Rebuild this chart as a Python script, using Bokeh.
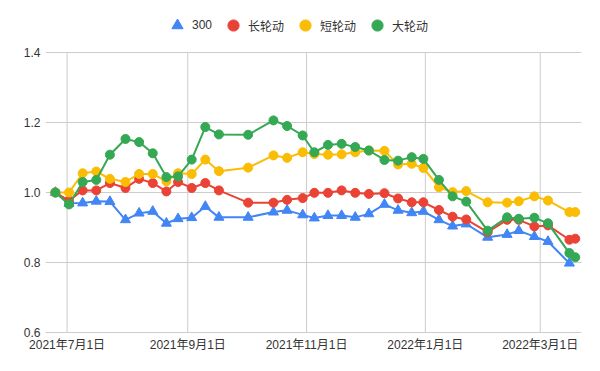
import datetime as dt
from bokeh.plotting import figure
from bokeh.models import (FixedTicker, CustomJSTickFormatter, PrintfTickFormatter,
                          Legend, LegendItem, ColumnDataSource, Range1d)
from bokeh.embed import file_html
from bokeh.resources import INLINE

dates = ["2021-06-25", "2021-07-02", "2021-07-09", "2021-07-16", "2021-07-23", "2021-07-31",
         "2021-08-07", "2021-08-14", "2021-08-21", "2021-08-27", "2021-09-03", "2021-09-10",
         "2021-09-17", "2021-10-02", "2021-10-15", "2021-10-22", "2021-10-30", "2021-11-05",
         "2021-11-12", "2021-11-19", "2021-11-26", "2021-12-03", "2021-12-11", "2021-12-18",
         "2021-12-25", "2021-12-31", "2022-01-08", "2022-01-15", "2022-01-22", "2022-02-02",
         "2022-02-12", "2022-02-18", "2022-02-26", "2022-03-05", "2022-03-16", "2022-03-19"]

s300 = [1.0, 0.969, 0.970, 0.975, 0.974, 0.922, 0.941, 0.946, 0.912, 0.925, 0.928, 0.960,
        0.929, 0.929, 0.944, 0.949, 0.936, 0.927, 0.934, 0.934, 0.929, 0.939, 0.966, 0.949,
        0.942, 0.946, 0.922, 0.904, 0.910, 0.872, 0.880, 0.891, 0.874, 0.860, 0.798, float("nan")]
long_rot = [1.0, 0.977, 1.006, 1.006, 1.027, 1.013, 1.039, 1.027, 1.003, 1.030, 1.013, 1.027,
            1.006, 0.971, 0.971, 0.979, 0.984, 0.999, 0.999, 1.006, 0.999, 0.996, 0.998, 0.983,
            0.972, 0.972, 0.950, 0.931, 0.923, 0.887, 0.922, 0.922, 0.903, 0.906, 0.865, 0.868]
short_rot = [1.0, 1.0, 1.055, 1.060, 1.039, 1.030, 1.053, 1.053, 1.032, 1.055, 1.053, 1.094,
             1.061, 1.071, 1.106, 1.099, 1.115, 1.110, 1.108, 1.109, 1.115, 1.120, 1.119, 1.080,
             1.082, 1.070, 1.015, 1.001, 1.004, 0.972, 0.971, 0.975, 0.989, 0.977, 0.944, 0.944]
big_rot = [1.0, 0.966, 1.030, 1.036, 1.108, 1.153, 1.144, 1.112, 1.044, 1.046, 1.094, 1.187,
           1.166, 1.165, 1.206, 1.190, 1.163, 1.115, 1.136, 1.139, 1.130, 1.120, 1.093, 1.091,
           1.101, 1.096, 1.036, 0.989, 0.974, 0.891, 0.929, 0.925, 0.928, 0.912, 0.827, 0.815]

names = ["300", "长轮动", "短轮动", "大轮动"]
colors = ["#4285F4", "#EA4335", "#FBBC04", "#34A853"]
x_ticks = ["2021-07-01", "2021-09-01", "2021-11-01", "2022-01-01", "2022-03-01"]
y_ticks = [0.6, 0.8, 1.0, 1.2, 1.4]

xs = [dt.datetime.strptime(d, "%Y-%m-%d") for d in dates]
epoch = dt.datetime(1970, 1, 1)
def ms(d):
    return (d - epoch).total_seconds() * 1000.0

FONT = "Liberation Sans, Noto Sans CJK SC"
PX = 1.0 / 350.0                    # one pixel in value units
Y_TOP = 1.4 + 52.0 * PX             # frame extends above the top gridline to hold the legend
Y_BOT = 0.6 - 1.0 * PX              # keep the 0.6 gridline inside the frame

p = figure(width=600, height=371, x_axis_type="datetime", output_backend="svg",
           toolbar_location=None, min_border_left=45, min_border_right=19,
           min_border_top=0, min_border_bottom=38)
p.x_range = Range1d(ms(dt.datetime(2021, 6, 19, 22)), ms(dt.datetime(2022, 3, 22, 5)))
p.y_range = Range1d(Y_BOT, Y_TOP)
p.outline_line_color = None
p.background_fill_color = "white"
p.border_fill_color = "white"

tick_ms = [ms(dt.datetime.strptime(t, "%Y-%m-%d")) for t in x_ticks]
p.xaxis.ticker = FixedTicker(ticks=tick_ms)
p.xaxis.formatter = CustomJSTickFormatter(code="""
const d = new Date(tick);
return d.getUTCFullYear() + "年" + (d.getUTCMonth() + 1) + "月" + d.getUTCDate() + "日";
""")
p.yaxis.ticker = FixedTicker(ticks=y_ticks)
p.yaxis.formatter = PrintfTickFormatter(format="%.1f")
for ax in (p.xaxis, p.yaxis):
    ax.axis_line_color = None
    ax.major_tick_line_color = None
    ax.minor_tick_line_color = None
    ax.major_tick_in = 0
    ax.major_tick_out = 0
    ax.major_label_text_font = FONT
    ax.major_label_text_font_size = "12px"
    ax.major_label_text_color = "#333333"
p.yaxis.major_label_standoff = 5
p.xaxis.major_label_standoff = 4
p.ygrid.grid_line_color = "#cccccc"
p.ygrid.grid_line_width = 1
p.xgrid.visible = False
# vertical grid lines limited to the value span 0.6 - 1.4
p.segment(x0=tick_ms, y0=[y_ticks[0]] * len(tick_ms), x1=tick_ms,
          y1=[y_ticks[-1]] * len(tick_ms), line_color="#cccccc", line_width=1)

series = [s300, long_rot, short_rot, big_rot]
markers = ["triangle", "circle", "circle", "circle"]
items = []
for name, vals, col, mk in zip(names, series, colors, markers):
    src = ColumnDataSource(dict(x=xs, y=vals))
    p.line("x", "y", source=src, line_color=col, line_width=2)
    r = p.scatter("x", "y", source=src, marker=mk, size=10 if mk == "triangle" else 9,
                  fill_color=col, line_color=col)
    items.append(LegendItem(label=name, renderers=[r]))

legend = Legend(items=items, orientation="horizontal", location=(118, 294),
                glyph_width=28, glyph_height=28, label_standoff=1, spacing=7,
                padding=0, margin=0, border_line_color=None, background_fill_alpha=0,
                label_text_font=FONT, label_text_font_size="12px",
                label_text_color="#333333")
p.add_layout(legend, "center")

open("out.html", "w").write(file_html(p, INLINE))
